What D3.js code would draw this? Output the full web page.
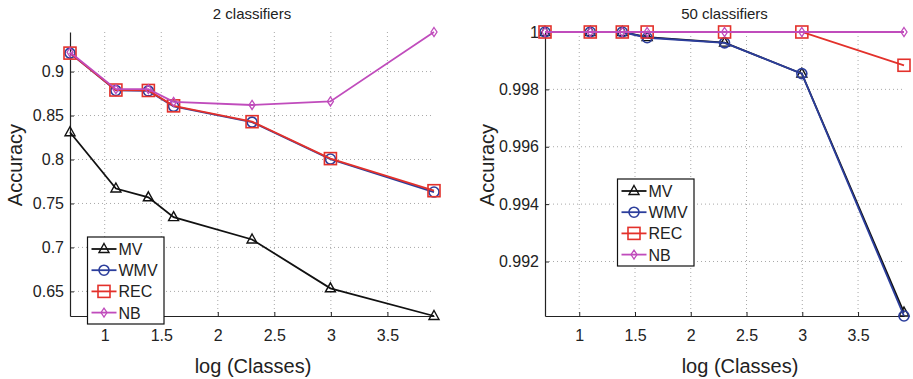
<!DOCTYPE html>
<html>
<head>
<meta charset="utf-8">
<script src="https://d3js.org/d3.v7.min.js"></script>
<style>
  body { margin: 0; background: #fff; }
  text { font-family: "Liberation Sans", Arial, sans-serif; fill: #222; }
</style>
</head>
<body>
<div id="chart"></div>
<script>
// log of number of classes (2, 3, 4, 5, 10, 20, 50)
const logClasses = [0.693, 1.099, 1.386, 1.609, 2.303, 2.996, 3.912];
const seriesNames = ["MV", "WMV", "REC", "NB"];

// 2 classifiers
const mv2  = [0.831, 0.767, 0.757, 0.7345, 0.709, 0.6535, 0.622];
const wmv2 = [0.921, 0.8785, 0.878, 0.8605, 0.8425, 0.8005, 0.763];
const rec2 = [0.921, 0.879, 0.8785, 0.861, 0.843, 0.801, 0.7645];
const nb2  = [0.922, 0.880, 0.880, 0.8655, 0.862, 0.8660, 0.945];

// 50 classifiers
const mv50  = [1.0, 1.0, 1.0, 0.99982, 0.99963, 0.99855, 0.99022];
const wmv50 = [1.0, 1.0, 1.0, 0.99980, 0.99962, 0.99855, 0.99010];
const rec50 = [1.0, 1.0, 1.0, 1.0, 1.0, 1.0, 0.99884];
const nb50  = [1.0, 1.0, 1.0, 1.0, 1.0, 1.0, 1.0];

const xTicks = [1, 1.5, 2, 2.5, 3, 3.5];
const yTicks2 = [0.65, 0.7, 0.75, 0.8, 0.85, 0.9];
const yTicks50 = [0.992, 0.994, 0.996, 0.998, 1];

const colors = { MV: "#111111", WMV: "#2c3e9c", REC: "#e3312b", NB: "#c04cbc" };

const svg = d3.select("#chart").append("svg")
    .attr("width", 913)
    .attr("height", 379);

function drawMarker(g, name, cx, cy) {
    const c = colors[name];
    if (name === "MV") {
        g.append("path")
            .attr("d", `M${cx},${cy - 5.5}L${cx + 5},${cy + 3.5}L${cx - 5},${cy + 3.5}Z`)
            .attr("fill", "none").attr("stroke", c).attr("stroke-width", 1.4);
    } else if (name === "WMV") {
        g.append("circle").attr("cx", cx).attr("cy", cy).attr("r", 5)
            .attr("fill", "none").attr("stroke", c).attr("stroke-width", 1.6);
    } else if (name === "REC") {
        g.append("rect").attr("x", cx - 6).attr("y", cy - 6).attr("width", 12).attr("height", 12)
            .attr("fill", "none").attr("stroke", c).attr("stroke-width", 1.6);
    } else {
        g.append("path")
            .attr("d", `M${cx},${cy - 4.5}L${cx + 3},${cy}L${cx},${cy + 4.5}L${cx - 3},${cy}Z`)
            .attr("fill", "none").attr("stroke", c).attr("stroke-width", 1.3);
    }
}

function drawPanel(cfg) {
    const { left, right, top, bottom, series, yTicks, title, xlabelX, ylabelX, legend } = cfg;
    const g = svg.append("g");

    const x = d3.scaleLinear()
        .domain([logClasses[0], logClasses[logClasses.length - 1]])
        .range([left, right]);
    const allVals = series.flatMap(s => s.values);
    const y = d3.scaleLinear()
        .domain(d3.extent(allVals))
        .range([bottom, top]);

    // grid
    g.append("g").selectAll("line")
        .data(xTicks).enter().append("line")
        .attr("x1", d => x(d)).attr("x2", d => x(d))
        .attr("y1", top).attr("y2", bottom)
        .attr("stroke", "#a8a8a8").attr("stroke-width", 1)
        .attr("stroke-dasharray", "1,3");
    g.append("g").selectAll("line")
        .data(yTicks.filter(d => y(d) > top + 1)).enter().append("line")
        .attr("x1", left).attr("x2", right)
        .attr("y1", d => y(d)).attr("y2", d => y(d))
        .attr("stroke", "#a8a8a8").attr("stroke-width", 1)
        .attr("stroke-dasharray", "1,3");

    // axes
    const xAxis = g.append("g")
        .attr("transform", `translate(0,${bottom})`)
        .call(d3.axisBottom(x).tickValues(xTicks).tickFormat(d3.format("")).tickSizeInner(-4).tickSizeOuter(0).tickPadding(14));
    const yAxis = g.append("g")
        .attr("transform", `translate(${left},0)`)
        .call(d3.axisLeft(y).tickValues(yTicks).tickFormat(d => String(+d.toFixed(4))).tickSizeInner(-4).tickSizeOuter(0).tickPadding(6));
    [xAxis, yAxis].forEach(a => {
        a.select(".domain").attr("stroke", "#222").attr("stroke-width", 1.2);
        a.selectAll(".tick line").attr("stroke", "#222");
        a.selectAll(".tick text").style("font-size", "16px").attr("fill", "#222");
    });

    // lines and markers
    const line = d3.line().x((d, i) => x(logClasses[i])).y(d => y(d));
    series.forEach(s => {
        g.append("path")
            .datum(s.values)
            .attr("fill", "none")
            .attr("stroke", colors[s.name])
            .attr("stroke-width", 1.8)
            .attr("d", line);
        const mg = g.append("g");
        s.values.forEach((v, i) => drawMarker(mg, s.name, x(logClasses[i]), y(v)));
    });

    // title and labels
    g.append("text")
        .attr("x", (left + right) / 2).attr("y", 19)
        .attr("text-anchor", "middle")
        .style("font-size", "15px")
        .text(title);
    g.append("text")
        .attr("x", xlabelX).attr("y", 373)
        .attr("text-anchor", "middle")
        .style("font-size", "20px")
        .text("log (Classes)");
    g.append("text")
        .attr("transform", `translate(${ylabelX},${165}) rotate(-90)`)
        .attr("text-anchor", "middle")
        .style("font-size", "20px")
        .text("Accuracy");

    // legend
    const lg = g.append("g");
    lg.append("rect")
        .attr("x", legend.x).attr("y", legend.y)
        .attr("width", legend.w).attr("height", legend.h)
        .attr("fill", "#fff").attr("stroke", "#111").attr("stroke-width", 1.2);
    seriesNames.forEach((name, i) => {
        const ly = legend.y + 12 + i * 21.2;
        lg.append("line")
            .attr("x1", legend.x + 4).attr("x2", legend.x + 29)
            .attr("y1", ly).attr("y2", ly)
            .attr("stroke", colors[name]).attr("stroke-width", 1.8);
        drawMarker(lg, name, legend.x + 16.5, ly);
        lg.append("text")
            .attr("x", legend.x + 31).attr("y", ly + 6)
            .style("font-size", "16px")
            .text(name);
    });
}

drawPanel({
    left: 70, right: 434, top: 32, bottom: 316,
    series: [
        { name: "MV", values: mv2 },
        { name: "WMV", values: wmv2 },
        { name: "REC", values: rec2 },
        { name: "NB", values: nb2 }
    ],
    yTicks: yTicks2,
    title: "2 classifiers",
    xlabelX: 253, ylabelX: 22,
    legend: { x: 87.5, y: 237, w: 76.5, h: 87 }
});

drawPanel({
    left: 545, right: 904, top: 32, bottom: 316,
    series: [
        { name: "MV", values: mv50 },
        { name: "WMV", values: wmv50 },
        { name: "REC", values: rec50 },
        { name: "NB", values: nb50 }
    ],
    yTicks: yTicks50,
    title: "50 classifiers",
    xlabelX: 740, ylabelX: 494,
    legend: { x: 617.5, y: 179, w: 76.5, h: 87 }
});
</script>
</body>
</html>
